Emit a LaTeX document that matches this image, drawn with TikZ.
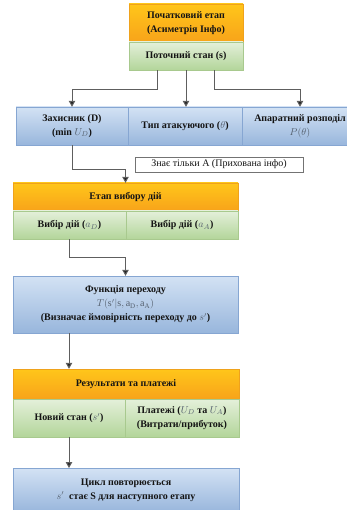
\documentclass[tikz,border=0pt]{standalone}
\usepackage{fontspec}
\setmainfont{Liberation Serif}
\usetikzlibrary{arrows.meta,shadows,calc}

\definecolor{txt}{HTML}{141414}
\definecolor{mathcol}{HTML}{55606E}
\definecolor{blueTop}{HTML}{D3E2F4}
\definecolor{blueBot}{HTML}{98B6DC}
\definecolor{blueLine}{HTML}{86A6D2}
\definecolor{orTop}{HTML}{FFC61A}
\definecolor{orBot}{HTML}{F8A31A}
\definecolor{orLine}{HTML}{EFA21C}
\definecolor{grTop}{HTML}{E4F0DA}
\definecolor{grBot}{HTML}{B3D59A}
\definecolor{grLine}{HTML}{A8C98E}
\definecolor{wire}{HTML}{5E5E5E}

\newcommand{\mth}[1]{{\color{mathcol}\mdseries$#1$}}

\tikzset{
  cell/.style={inner sep=0pt, align=center, text=txt,
    font=\fontsize{10}{14}\selectfont\bfseries,
    drop shadow={shadow xshift=1.2pt, shadow yshift=-1.4pt, opacity=0.25}},
  bluecell/.style={cell, draw=blueLine, top color=blueTop, bottom color=blueBot},
  orcell/.style={cell, draw=orLine, top color=orTop, bottom color=orBot},
  grcell/.style={cell, draw=grLine, top color=grTop, bottom color=grBot},
  conn/.style={draw=wire, line width=1pt,
    -{Triangle[length=6pt,width=6.5pt,fill=black!85]}},
  notebox/.style={draw=black!55, fill=white, inner sep=0pt, text=txt,
    font=\fontsize{10}{12}\selectfont, minimum width=168pt, minimum height=15pt}
}

\begin{document}
\begin{tikzpicture}[x=1pt,y=-1pt]
\useasboundingbox (0,0) rectangle (347,510);
\clip (0,0) rectangle (347,510);

% initial stage
\node[orcell, minimum width=114pt, minimum height=38pt] (init) at (186,23)
  {Початковий етап\\(Асиметрія Інфо)};
\node[grcell, minimum width=114pt, minimum height=28pt] (cur) at (186,56)
  {Поточний стан (s)};

% players and types
\node[bluecell, minimum width=112pt, minimum height=38pt] (def) at (72,126)
  {Захисник (D)\\(min \mth{U_D})};
\node[bluecell, minimum width=114pt, minimum height=38pt] (typ) at (185,126)
  {Тип атакуючого (\mth{\theta})};
\node[bluecell, minimum width=116pt, minimum height=38pt] (pri) at (300,126)
  {Апаратний розподіл\\\mth{P(\theta)}};

% hidden information note
\node[notebox] (note) at (219,164.5) {Знає тільки А (Прихована інфо)};

% action selection
\node[orcell, minimum width=225pt, minimum height=28pt] (stage) at (125.5,197)
  {Етап вибору дій};
\node[grcell, minimum width=113pt, minimum height=28pt] (aD) at (69.5,225)
  {Вибір дій (\mth{a_D})};
\node[grcell, minimum width=112pt, minimum height=28pt] (aA) at (182,225)
  {Вибір дій (\mth{a_A})};

% transition function
\node[bluecell, minimum width=225pt, minimum height=57pt] (trans) at (125.5,304.5)
  {Функція переходу\\
   \mth{T(\mathrm{s}'|\mathrm{s},\mathrm{a}_{\mathrm{D}},\mathrm{a}_{\mathrm{A}})}\\
   (Визначає ймовірність переходу до \mth{s'})};

% results and payoffs
\node[orcell, minimum width=226pt, minimum height=30pt] (res) at (126,384)
  {Результати та платежі};
\node[grcell, minimum width=112pt, minimum height=38pt] (news) at (69,418)
  {Новий стан (\mth{s'})};
\node[grcell, minimum width=114pt, minimum height=38pt] (pay) at (182,418)
  {Платежі (\mth{U_D} та \mth{U_A})\\(Витрати/прибуток)};

% next round
\node[bluecell, minimum width=226pt, minimum height=44pt, anchor=north] (cyc) at (126,468)
  {Цикл повторюється\\\mth{s'}\ \ стає S для наступного етапу};

% connectors
\draw[conn] ([xshift=-29pt]cur.south) -- ++(0,19) -| (def.north);
\draw[conn] (cur.south) -- (cur.south |- typ.north);
\draw[conn] ([xshift=28pt]cur.south) -- ++(0,19) -| (pri.north);
\draw[conn] (def.south) -- ++(0,24) -| (stage.north);
\draw[conn] (aD.south) -- ++(0,18) -| (trans.north);
\draw[conn] (trans.south -| news.north) -- (res.north -| news.north);
\draw[conn] (news.south) -- (news.south |- cyc.north);
\end{tikzpicture}
\end{document}
